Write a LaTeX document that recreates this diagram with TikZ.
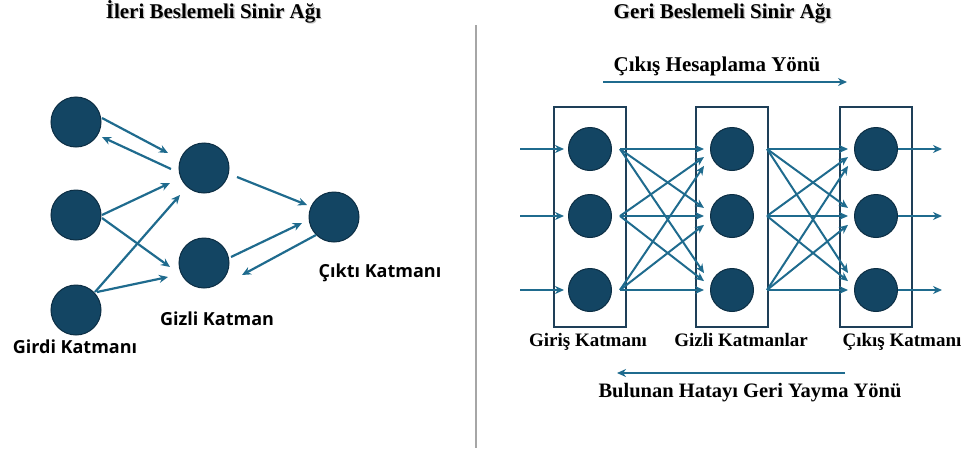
\documentclass[tikz,border=0pt]{standalone}
\usepackage{fontspec}
\setmainfont{Liberation Serif}
\newfontfamily\labelsans{Open Sans}
\usetikzlibrary{arrows.meta,calc}

\definecolor{neuron}{HTML}{134563}
\definecolor{neuronedge}{HTML}{0C2E44}
\definecolor{link}{HTML}{1F6B8E}
\definecolor{frame}{HTML}{1E3F58}
\definecolor{divider}{HTML}{A6A6A6}

% bold serif heading with a soft grey drop shadow behind it
\newcommand{\shadowed}[1]{\makebox[0pt][l]{\hspace{1.3pt}\raisebox{-1.8pt}{\color{gray!45}#1}}#1}

\tikzset{
  neuronL/.style={circle, fill=neuron, draw=neuronedge, line width=1pt,
                  minimum size=50pt, inner sep=0pt},
  neuronR/.style={neuronL, minimum size=43pt},
  link/.style={draw=link, line width=2.2pt, -{Stealth[length=9pt,width=8pt]}},
  linkR/.style={link, line width=2pt},
  layerbox/.style={draw=frame, line width=1.5pt, minimum width=72pt,
                   minimum height=220pt, inner sep=0pt},
  heading/.style={font=\fontsize{21}{23}\selectfont\bfseries, inner sep=0pt, anchor=base},
  sanslabel/.style={font=\labelsans\fontsize{18}{20}\selectfont\bfseries, inner sep=0pt, anchor=base},
  seriflabel/.style={font=\fontsize{19}{21}\selectfont\bfseries, inner sep=0pt, anchor=base},
}

\begin{document}
\begin{tikzpicture}[x=1pt, y=-1pt]
\useasboundingbox (0,0) rectangle (967,450);

% ---------- headings ----------
\node[heading] (tl) at (213.5,18) {\shadowed{İleri Beslemeli Sinir Ağı}};
\node[heading] (tr) at (722.5,18) {\shadowed{Geri Beslemeli Sinir Ağı}};

% separator between the two panels
\draw[divider, line width=1.4pt] (476,25) -- (476,448);

% ---------- feed-forward network ----------
\node[neuronL] (i1) at (76,122) {};
\node[neuronL] (i2) at (76,215) {};
\node[neuronL] (i3) at (76,310) {};
\node[neuronL] (h1) at (204,168) {};
\node[neuronL] (h2) at (204,263) {};
\node[neuronL] (o)  at (334,217) {};

\draw[link] ($(i1)+(26,-4)$) -- ($(h1)+(-36,-15)$);
\draw[link] ($(h1)+(-33,1)$) -- ($(i1)+(26,15)$);
\draw[link] ($(i2)+(26,0)$) -- ($(h1)+(-34,15)$);
\draw[link] ($(i2)+(26,3)$) -- ($(h2)+(-34,4)$);
\draw[link] ($(i3)+(19,-18)$) -- ($(h1)+(-24,27)$);
\draw[link] ($(i3)+(21,-18)$) -- ($(h2)+(-36,14)$);
\draw[link] ($(h1)+(33,9)$) -- ($(o)+(-27,-12)$);
\draw[link] ($(h2)+(27,-6)$) -- ($(o)+(-32,6)$);
\draw[link] ($(o)+(-18,18)$) -- ($(h2)+(38,12)$);

\node[sanslabel] (lo) at (380,277) {Çıktı Katmanı};
\node[sanslabel] (lh) at (217,325) {Gizli Katman};
\node[sanslabel] (li) at (75,353) {Girdi Katmanı};

% ---------- back-propagation network ----------
\node[layerbox] (box1) at (590,217) {};
\node[layerbox] (box2) at (732,217) {};
\node[layerbox] (box3) at (876,217) {};

\foreach \r/\y in {1/149,2/216,3/290}{
  \node[neuronR] (a\r) at (590,\y) {};
  \node[neuronR] (b\r) at (732,\y) {};
  \node[neuronR] (c\r) at (876,\y) {};
  \coordinate (in\r)  at (520,\y);
  \coordinate (out\r) at (942,\y);
  \draw[linkR] (in\r) -- ($(a\r.west)+(-4,0)$);
  \draw[linkR] (c\r.east) -- (out\r);
}

% fully connected links between neighbouring layers
\foreach \s/\ys in {1/149,2/216,3/290}{
  \foreach \t/\yt in {1/149,2/216,3/290}{
    \pgfmathsetmacro{\dy}{0.12*(\ys-\yt)}
    \draw[linkR] ($(a\s)+(30,0)$) -- ($(b\t)+(-28,\dy)$);
    \draw[linkR] ($(b\s)+(35,0)$) -- ($(c\t)+(-28,\dy)$);
  }
}

\node[seriflabel] (ga) at (588,346) {Giriş Katmanı};
\node[seriflabel] (gb) at (741,346) {Gizli Katmanlar};
\node[seriflabel] (gc) at (902,346) {Çıkış Katmanı};

% direction of computation and of error propagation
\node[heading] (fw) at (717,71) {Çıkış Hesaplama Yönü};
\coordinate (fwA) at (603,82);
\coordinate (fwB) at (847,82);
\draw[linkR] (fwA) -- (fwB);

\coordinate (bwA) at (845,373);
\coordinate (bwB) at (617,373);
\draw[linkR] (bwA) -- (bwB);
\node[heading, font=\fontsize{20.5}{23}\selectfont\bfseries] (bw) at (750,397) {Bulunan Hatayı Geri Yayma Yönü};
\end{tikzpicture}
\end{document}
